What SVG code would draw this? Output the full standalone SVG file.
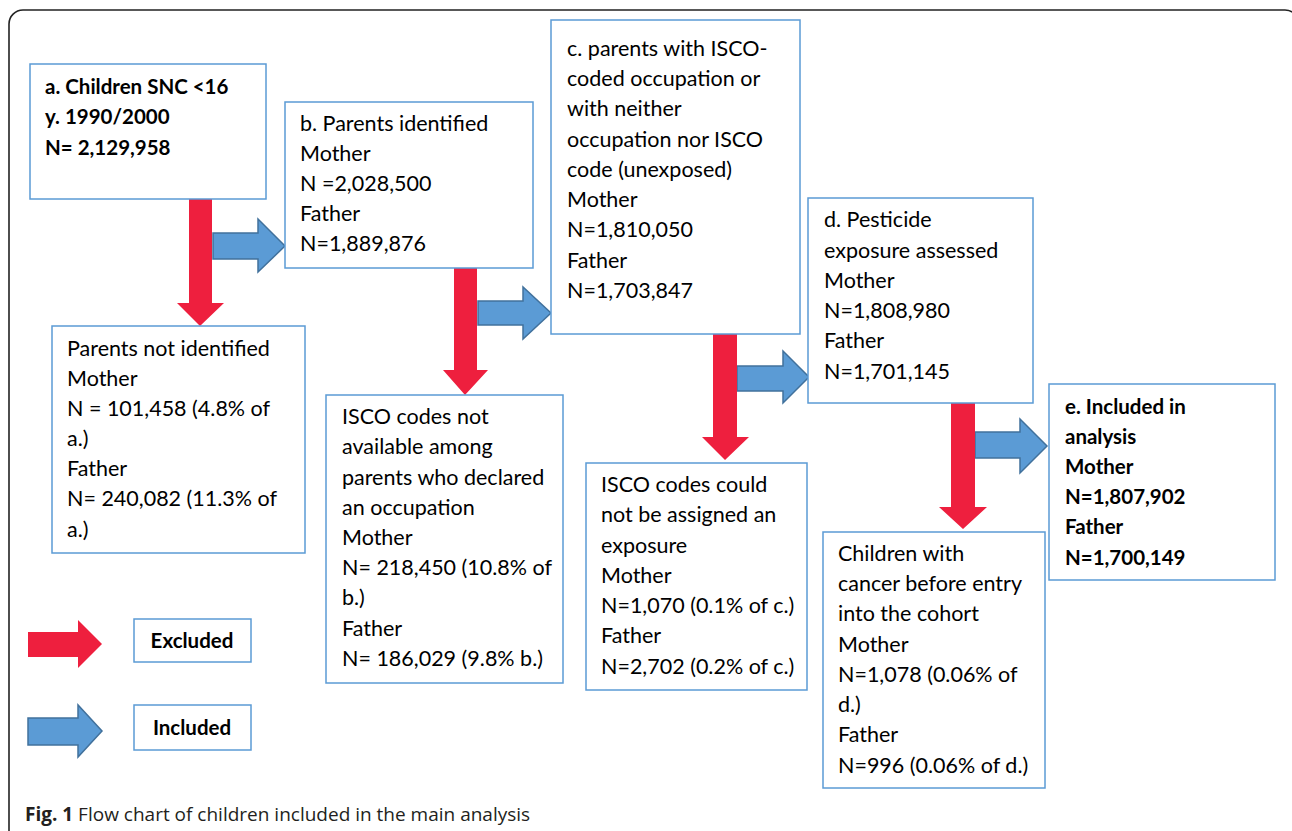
<svg xmlns="http://www.w3.org/2000/svg" width="1292" height="831" viewBox="0 0 1292 831">
<style>
.box{fill:#fff;stroke:#5B9BD5;stroke-width:1.5}
.t{font-family:Lato,"Liberation Sans",sans-serif;font-size:21.5px;fill:#000}
.b{font-weight:bold;font-size:20.5px}
.red{fill:#EE1F3E}
.blue{fill:#5B9BD5;stroke:#41719C;stroke-width:1.5;stroke-linejoin:miter}
.cap{font-family:"Open Sans","Liberation Sans",sans-serif;font-size:19px;fill:#231F20}
</style>
<rect width="1292" height="831" fill="#fff"/>
<rect x="9" y="10" width="1290" height="840" rx="14" fill="none" stroke="#222" stroke-width="1.6"/>
<g id="connectors">
<polygon class="blue" points="213,233 258,233 258,219 285,246 258,272 258,259 213,259"/>
<polygon class="blue" points="478,301 523,301 523,287 551,313 523,339 523,325 478,325"/>
<polygon class="blue" points="737,366 783,366 783,351 809,377 783,403 783,391 737,391"/>
<polygon class="blue" points="975,432 1020,432 1020,419 1047,446 1020,473 1020,458 975,458"/>
<polygon class="red" points="189,199 212,199 212,303 224,303 200,326 177,303 189,303"/>
<polygon class="red" points="454,268 477,268 477,370 488,370 465,395 443,370 454,370"/>
<polygon class="red" points="713,334 737,334 737,437 749,437 725,460 702,437 713,437"/>
<polygon class="red" points="951,403 975,403 975,507 987,507 963,529 939,507 951,507"/>
</g>
<g id="node-a">
<rect class="box" x="30" y="64" width="236" height="135"/>
<text class="t b" x="45"><tspan x="45" y="94">a. Children SNC &lt;16</tspan><tspan x="45" y="124">y. 1990/2000</tspan><tspan x="45" y="155">N= 2,129,958</tspan></text>
</g>
<g id="node-b">
<rect class="box" x="285" y="102" width="248" height="166"/>
<text class="t" x="300"><tspan x="300" y="131">b. Parents identified</tspan><tspan x="300" y="161">Mother</tspan><tspan x="300" y="191">N =2,028,500</tspan><tspan x="300" y="221">Father</tspan><tspan x="300" y="251">N=1,889,876</tspan></text>
</g>
<g id="node-c">
<rect class="box" x="551" y="20" width="249" height="314"/>
<text class="t" x="567"><tspan x="567" y="56">c. parents with ISCO-</tspan><tspan x="567" y="86">coded occupation or</tspan><tspan x="567" y="116">with neither</tspan><tspan x="567" y="147">occupation nor ISCO</tspan><tspan x="567" y="177">code (unexposed)</tspan><tspan x="567" y="207">Mother</tspan><tspan x="567" y="237">N=1,810,050</tspan><tspan x="567" y="268">Father</tspan><tspan x="567" y="298">N=1,703,847</tspan></text>
</g>
<g id="node-d">
<rect class="box" x="808" y="198" width="225" height="205"/>
<text class="t" x="824"><tspan x="824" y="227">d. Pesticide</tspan><tspan x="824" y="258">exposure assessed</tspan><tspan x="824" y="288">Mother</tspan><tspan x="824" y="318">N=1,808,980</tspan><tspan x="824" y="348">Father</tspan><tspan x="824" y="379">N=1,701,145</tspan></text>
</g>
<g id="node-e">
<rect class="box" x="1049" y="384" width="226" height="196"/>
<text class="t b" x="1065"><tspan x="1065" y="414">e. Included in</tspan><tspan x="1065" y="444">analysis</tspan><tspan x="1065" y="474">Mother</tspan><tspan x="1065" y="504">N=1,807,902</tspan><tspan x="1065" y="534">Father</tspan><tspan x="1065" y="565">N=1,700,149</tspan></text>
</g>
<g id="node-excl-a">
<rect class="box" x="52" y="326" width="253" height="227"/>
<text class="t" x="67"><tspan x="67" y="356">Parents not identified</tspan><tspan x="67" y="386">Mother</tspan><tspan x="67" y="416">N = 101,458 (4.8% of</tspan><tspan x="67" y="446">a.)</tspan><tspan x="67" y="476">Father</tspan><tspan x="67" y="506">N= 240,082 (11.3% of</tspan><tspan x="67" y="537">a.)</tspan></text>
</g>
<g id="node-excl-b">
<rect class="box" x="326" y="395" width="237" height="288"/>
<text class="t" x="342"><tspan x="342" y="424">ISCO codes not</tspan><tspan x="342" y="454">available among</tspan><tspan x="342" y="485">parents who declared</tspan><tspan x="342" y="515">an occupation</tspan><tspan x="342" y="545">Mother</tspan><tspan x="342" y="575">N= 218,450 (10.8% of</tspan><tspan x="342" y="605">b.)</tspan><tspan x="342" y="636">Father</tspan><tspan x="342" y="666">N= 186,029 (9.8% b.)</tspan></text>
</g>
<g id="node-excl-c">
<rect class="box" x="586" y="463" width="221" height="227"/>
<text class="t" x="601"><tspan x="601" y="492">ISCO codes could</tspan><tspan x="601" y="522">not be assigned an</tspan><tspan x="601" y="553">exposure</tspan><tspan x="601" y="583">Mother</tspan><tspan x="601" y="613">N=1,070 (0.1% of c.)</tspan><tspan x="601" y="643">Father</tspan><tspan x="601" y="674">N=2,702 (0.2% of c.)</tspan></text>
</g>
<g id="node-excl-d">
<rect class="box" x="823" y="532" width="222" height="256"/>
<text class="t" x="838"><tspan x="838" y="561">Children with</tspan><tspan x="838" y="591">cancer before entry</tspan><tspan x="838" y="621">into the cohort</tspan><tspan x="838" y="652">Mother</tspan><tspan x="838" y="682">N=1,078 (0.06% of</tspan><tspan x="838" y="712">d.)</tspan><tspan x="838" y="742">Father</tspan><tspan x="838" y="773">N=996 (0.06% of d.)</tspan></text>
</g>
<g id="legend-excluded">
<polygon class="red" points="28,632 78,632 78,620 102,644 78,668 78,657 28,657"/>
<rect class="box" x="134" y="619" width="117" height="43"/>
<text class="t b" x="192" y="648" text-anchor="middle">Excluded</text>
</g>
<g id="legend-included">
<polygon class="blue" points="28,718 78,718 78,705 102,731 78,757 78,745 28,745"/>
<rect class="box" x="134" y="705" width="117" height="45"/>
<text class="t b" x="192" y="735" text-anchor="middle">Included</text>
</g>
<g id="caption">
<text class="cap" x="25" y="821"><tspan font-weight="bold">Fig. 1</tspan> Flow chart of children included in the main analysis</text>
</g>
</svg>
